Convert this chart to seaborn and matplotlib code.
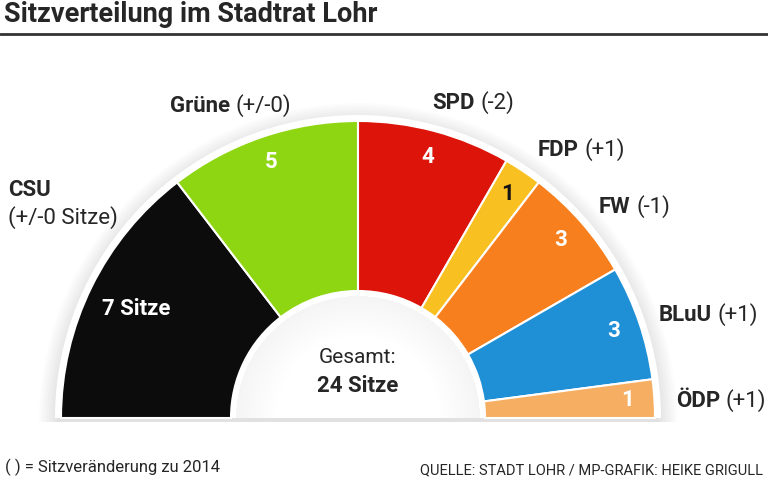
import matplotlib.pyplot as plt
import seaborn as sns
import numpy as np
from matplotlib.patches import Wedge

sns.set_style("white")
plt.rcParams['font.family'] = ['Roboto', 'DejaVu Sans']

# Seats in the Lohr city council
parties = ['CSU', 'Grüne', 'SPD', 'FDP', 'FW', 'BLuU', 'ÖDP']
seats = [7, 5, 4, 1, 3, 3, 1]
changes = ['+/-0', '+/-0', '-2', '+1', '-1', '+1', '+1']
colors = ['#0c0c0c', '#8fd612', '#dc140a', '#f9c022', '#f77f1e', '#1f8fd6', '#f6ae62']
num_colors = ['white', 'white', 'white', '#141414', 'white', 'white', 'white']
total = sum(seats)

# layout (pixel coordinates)
cx, cy = 358, 418
r_out, r_in = 297, 127
label_pos = [None, (170, 106), (432, 103), (538, 150), (599, 207), (659, 315), (676, 401)]

fig = plt.figure(figsize=(7.68, 4.86), dpi=100)
ax = fig.add_axes([0, 0, 1, 1])

# soft shadow around the half ring
for k in range(10):
    ax.add_patch(Wedge((cx, cy + 4), r_out + 22 - 2 * k, 180, 360,
                       color='#000000', alpha=0.011, lw=0, zorder=0))
ax.add_patch(Wedge((cx, cy), r_out + 6, 180, 360, color='white', lw=0, zorder=1))
# light grey glow inside the hole
for k in range(10):
    ax.add_patch(Wedge((cx, cy), r_in - 5, 180, 360, width=4 + 4 * k, color='#000000',
                       alpha=0.005, lw=0, zorder=1))

# half donut: hidden wedge of the same total takes the lower half
wedges, _ = ax.pie(seats + [total], colors=colors + ['none'], startangle=180,
                   counterclock=True, center=(cx, cy), radius=r_out,
                   wedgeprops=dict(width=r_out - r_in, edgecolor='white', linewidth=1.5),
                   frame=True)
for w in wedges:
    w.set_zorder(2)
wedges[-1].set_edgecolor('none')

# seat numbers
start = 180.0
for i, (p, s) in enumerate(zip(parties, seats)):
    mid = np.deg2rad(start + 180.0 * s / total / 2)
    rr = 247 if i == 0 else 270
    txt = f'{s} Sitze' if i == 0 else str(s)
    ax.text(cx + rr * np.cos(mid), cy + rr * np.sin(mid), txt, color=num_colors[i],
            fontsize=16, fontweight='bold', ha='center', va='center', zorder=3)
    start += 180.0 * s / total

# party labels with seat change
for i in range(1, len(parties)):
    x, y = label_pos[i]
    t = ax.text(x, y, parties[i], fontsize=16, fontweight='bold', ha='left', va='center')
    ax.annotate(f'({changes[i]})', xy=(1, 0), xycoords=t, xytext=(4, 0),
                textcoords='offset points', fontsize=16, ha='left', va='bottom')

ax.text(8, 190, parties[0], fontsize=16, fontweight='bold', ha='left', va='center')
ax.text(8, 218, f'({changes[0]} Sitze)', fontsize=16, ha='left', va='center')

ax.text(358, 357, 'Gesamt:', fontsize=15, ha='center', va='center')
ax.text(358, 386, f'{total} Sitze', fontsize=16, fontweight='bold', ha='center', va='center')

# title, rule and footer
ax.text(4, 15, 'Sitzverteilung im Stadtrat Lohr', fontsize=19.5, fontweight='bold',
        ha='left', va='center')
ax.plot([0, 768], [34, 34], color='#333333', lw=2)
ax.text(5, 467, '( ) = Sitzveränderung zu 2014', fontsize=12, ha='left', va='center')
ax.text(763, 470, 'QUELLE: STADT LOHR / MP-GRAFIK: HEIKE GRIGULL', fontsize=10.5,
        ha='right', va='center')

ax.set_xlim(0, 768)
ax.set_ylim(486, 0)
ax.set_aspect('auto')
ax.axis('off')

fig.savefig('out.png', dpi=100)
